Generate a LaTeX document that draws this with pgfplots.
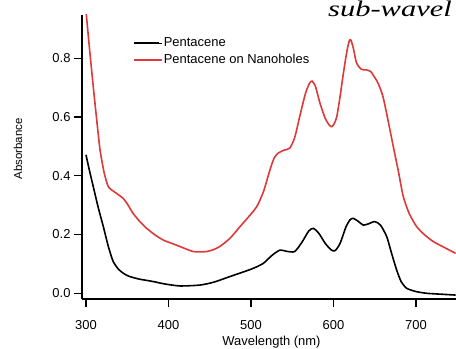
\documentclass[border=0pt]{standalone}
\usepackage{pgfplots}
\pgfplotsset{compat=1.18}
\usepackage{fontspec}
\setmainfont{Liberation Sans}
\newfontfamily\titlefont{Liberation Serif}
\definecolor{redline}{RGB}{222,56,56}
\begin{document}
\begin{tikzpicture}
\useasboundingbox (0bp,0bp) rectangle (456bp,349bp);
\begin{axis}[
  at={(82bp,50bp)}, anchor=south west, scale only axis,
  width=374bp, height=284bp,
  xmin=295.15, xmax=748.5, ymin=-0.0194, ymax=0.947,
  axis x line*=bottom, axis y line*=left,
  axis line style={line width=1.2bp, black, -},
  tick align=outside, major tick length=8bp,
  every tick/.style={line width=1.2bp, black},
  xtick={300,400,...,700}, ytick={0,0.2,0.4,0.6,0.8},
  /pgf/number format/assume math mode=true,
  tick label style={font=\fontsize{13}{15}\selectfont},
  xticklabel style={yshift=-10bp},
  yticklabel style={/pgf/number format/.cd, fixed, fixed zerofill, precision=1},
  clip=true,
  legend style={at={(axis description cs:0.136,0.926)}, anchor=north west, draw=none, fill=none,
    inner sep=0pt, font=\fontsize{13}{15}\selectfont,
    nodes={text height=9.5bp, text depth=2.8bp, inner sep=1bp}, row sep=2.2bp},
  legend cell align=left,
  legend image code/.code={\draw[#1, line width=1.9bp] (0bp,0bp) -- (25bp,0bp); \path (0bp,0bp) -- (28bp,0bp);},
]
\addplot[black, line width=1.6bp, smooth, tension=0.4] coordinates {
(300,0.471) (304,0.42) (308.8,0.363) (315,0.29) (321,0.227) (327,0.16) (333,0.108)
(340,0.08) (347,0.065) (353,0.057) (365,0.048) (381.6,0.040) (395,0.032) (414,0.025)
(438,0.028) (455,0.038) (474.5,0.057) (490,0.072) (502.8,0.085) (515,0.102) (525,0.128)
(535,0.147) (543,0.143) (553,0.142) (562,0.175) (570,0.212) (575.5,0.221) (582,0.205)
(590,0.170) (597,0.148) (602,0.145) (608,0.17) (615,0.225) (620,0.25) (624,0.255)
(630,0.245) (636,0.232) (642,0.236) (650,0.244) (657,0.232) (664.5,0.193) (670,0.14)
(676.6,0.079) (682,0.04) (688.7,0.017) (700,0.006) (713,0.0) (730,-0.003) (748,-0.006)
};
\addlegendentry{Pentacene}
\addplot[redline, line width=1.6bp, smooth, tension=0.4] coordinates {
(300,0.96) (304,0.84) (308.8,0.703) (313,0.59) (317,0.488) (322,0.41) (327,0.363)
(332,0.35) (337,0.340) (345,0.323) (351,0.30) (357,0.272) (365,0.245) (373.5,0.221)
(383,0.20) (393.7,0.181) (404,0.17) (414,0.159) (422,0.15) (430,0.142) (438,0.141)
(446,0.142) (454,0.148) (462,0.159) (474.5,0.187) (486.7,0.227) (497,0.26) (507,0.295)
(515,0.345) (523,0.42) (528,0.46) (533,0.477) (540,0.487) (547,0.494) (553,0.53)
(559,0.601) (566,0.68) (571,0.715) (574,0.722) (578,0.705) (583.6,0.647) (590,0.595)
(595,0.572) (598,0.567) (601,0.578) (604,0.601) (608,0.67) (612,0.749) (616,0.82)
(619,0.858) (621,0.862) (624,0.835) (628,0.783) (634,0.762) (640,0.760) (645,0.755)
(648,0.743) (654,0.715) (660,0.669) (666,0.59) (672.5,0.499) (679,0.41) (684.6,0.329)
(692,0.27) (700.8,0.227) (710,0.20) (721,0.176) (735,0.155) (748,0.136)
};
\addlegendentry{Pentacene on Nanoholes}
\end{axis}
\node[rotate=90, font=\fontsize{11.5}{13}\selectfont] at (18bp,200bp) {Absorbance};
\node[font=\fontsize{13}{15}\selectfont] at (271.5bp,7bp) {Wavelength (nm)};
\node[anchor=base west, inner sep=0pt] at (328bp,332.5bp) {\scalebox{1.36}[1]{\titlefont\itshape\fontsize{22.5}{26}\selectfont sub-wavel}};
\end{tikzpicture}
\end{document}
